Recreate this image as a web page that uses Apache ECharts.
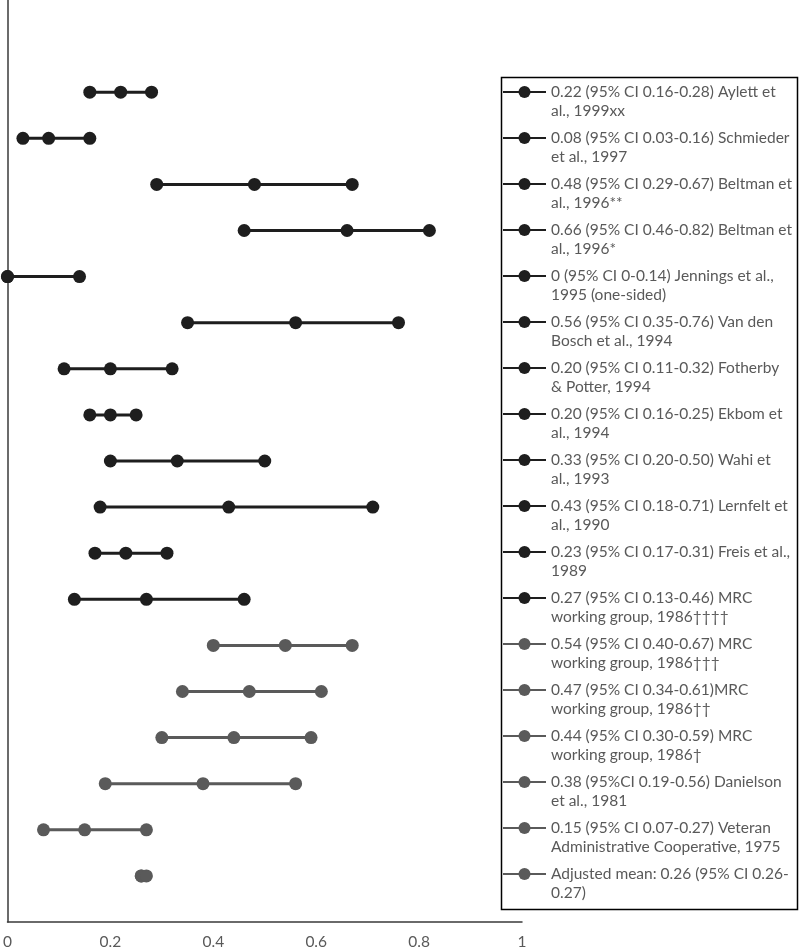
<!DOCTYPE html>
<html>
<head>
    <meta charset="utf-8">
    <title>ECharts</title>
    <script src="https://cdn.jsdelivr.net/npm/echarts@6/dist/echarts.min.js"></script>
    <style>
        html, body { margin: 0; padding: 0; background: #fff; }
    </style>
</head>
<body>
    <div id="chart" style="width:800px;height:951px;"></div>
    <script type="text/javascript">

        // one row per study, top to bottom
        var line1 = [
            '0.22 (95% CI 0.16-0.28) Aylett et',
            '0.08 (95% CI 0.03-0.16) Schmieder',
            '0.48 (95% CI 0.29-0.67) Beltman et',
            '0.66 (95% CI 0.46-0.82) Beltman et',
            '0 (95% CI 0-0.14) Jennings et al.,',
            '0.56 (95% CI 0.35-0.76) Van den',
            '0.20 (95% CI 0.11-0.32) Fotherby',
            '0.20 (95% CI 0.16-0.25) Ekbom et',
            '0.33 (95% CI 0.20-0.50) Wahi et',
            '0.43 (95% CI 0.18-0.71) Lernfelt et',
            '0.23 (95% CI 0.17-0.31) Freis et al.,',
            '0.27 (95% CI 0.13-0.46) MRC',
            '0.54 (95% CI 0.40-0.67) MRC',
            '0.47 (95% CI 0.34-0.61)MRC',
            '0.44 (95% CI 0.30-0.59) MRC',
            '0.38 (95%CI 0.19-0.56) Danielson',
            '0.15 (95% CI 0.07-0.27) Veteran',
            'Adjusted mean: 0.26 (95% CI 0.26-'
        ];
        var line2 = [
            'al., 1999xx',
            'et al., 1997',
            'al., 1996**',
            'al., 1996*',
            '1995 (one-sided)',
            'Bosch et al., 1994',
            '& Potter, 1994',
            'al., 1994',
            'al., 1993',
            'al., 1990',
            '1989',
            'working group, 1986††††',
            'working group, 1986†††',
            'working group, 1986††',
            'working group, 1986†',
            'et al., 1981',
            'Administrative Cooperative, 1975',
            '0.27)'
        ];
        var lower = [0.16, 0.03, 0.29, 0.46, 0, 0.35, 0.11, 0.16, 0.20, 0.18, 0.17, 0.13, 0.40, 0.34, 0.30, 0.19, 0.07, 0.26];
        var mean  = [0.22, 0.08, 0.48, 0.66, 0, 0.56, 0.20, 0.20, 0.33, 0.43, 0.23, 0.27, 0.54, 0.47, 0.44, 0.38, 0.15, 0.26];
        var upper = [0.28, 0.16, 0.67, 0.82, 0.14, 0.76, 0.32, 0.25, 0.50, 0.71, 0.31, 0.46, 0.67, 0.61, 0.59, 0.56, 0.27, 0.27];
        var xTicks = [0, 0.2, 0.4, 0.6, 0.8, 1];

        var dark = '#1e1e1e';
        var grey = '#5a5a5a';
        var textGrey = '#595959';
        var font = 'Lato';

        var chartContainer = document.getElementById("chart");
        var myChart = echarts.init(chartContainer);

        var names = [];
        var labelOf = {};
        var series = [];
        for (var i = 0; i < line1.length; i++) {
            var nm = line1[i] + ' ' + line2[i];
            names.push(nm);
            // blank first line keeps the icon level with the first text line
            labelOf[nm] = '\n' + line1[i] + '\n' + line2[i];
            var y = line1.length - i;
            var c = i < 12 ? dark : grey;
            series.push({
                name: nm,
                type: 'line',
                data: [[lower[i], y], [mean[i], y], [upper[i], y]],
                symbol: 'circle',
                symbolSize: 13,
                showSymbol: true,
                lineStyle: { color: c, width: 3 },
                itemStyle: { color: c },
                emphasis: { disabled: true },
                animation: false
            });
        }

        var option = {
            backgroundColor: '#fff',
            animation: false,
            grid: {
                left: 7,
                right: 278,
                top: 0,
                bottom: 29
            },
            xAxis: {
                type: 'value',
                min: 0,
                max: 1,
                interval: 0.2,
                axisLine: { lineStyle: { color: '#3a3a3a', width: 1.5 } },
                axisTick: { show: false },
                splitLine: { show: false },
                axisLabel: {
                    color: textGrey,
                    fontFamily: font,
                    fontSize: 15.5,
                    margin: 12,
                    formatter: function (v) {
                        return xTicks.indexOf(Math.round(v * 10) / 10) >= 0 ? String(Math.round(v * 10) / 10) : '';
                    }
                }
            },
            yAxis: {
                type: 'value',
                min: 0,
                max: 20,
                axisLine: { show: true, onZero: false, lineStyle: { color: '#3a3a3a', width: 1.5 } },
                axisTick: { show: false },
                axisLabel: { show: false },
                splitLine: { show: false }
            },
            legend: {
                orient: 'vertical',
                left: 502,
                top: 63.5,
                padding: 0,
                itemGap: -11,
                itemWidth: 43,
                itemHeight: 15,
                itemTextGap: 3,
                selectedMode: false,
                data: names,
                formatter: function (n) { return labelOf[n]; },
                textStyle: {
                    color: textGrey,
                    fontFamily: font,
                    fontSize: 15.5,
                    lineHeight: 19,
                    width: 240
                }
            },
            graphic: [{
                type: 'rect',
                left: 499,
                top: 75,
                shape: { width: 296, height: 832 },
                style: { fill: 'none', stroke: '#000', lineWidth: 1.5 },
                silent: true
            }],
            series: series
        };

        myChart.setOption(option);
    </script>
</body>
</html>
